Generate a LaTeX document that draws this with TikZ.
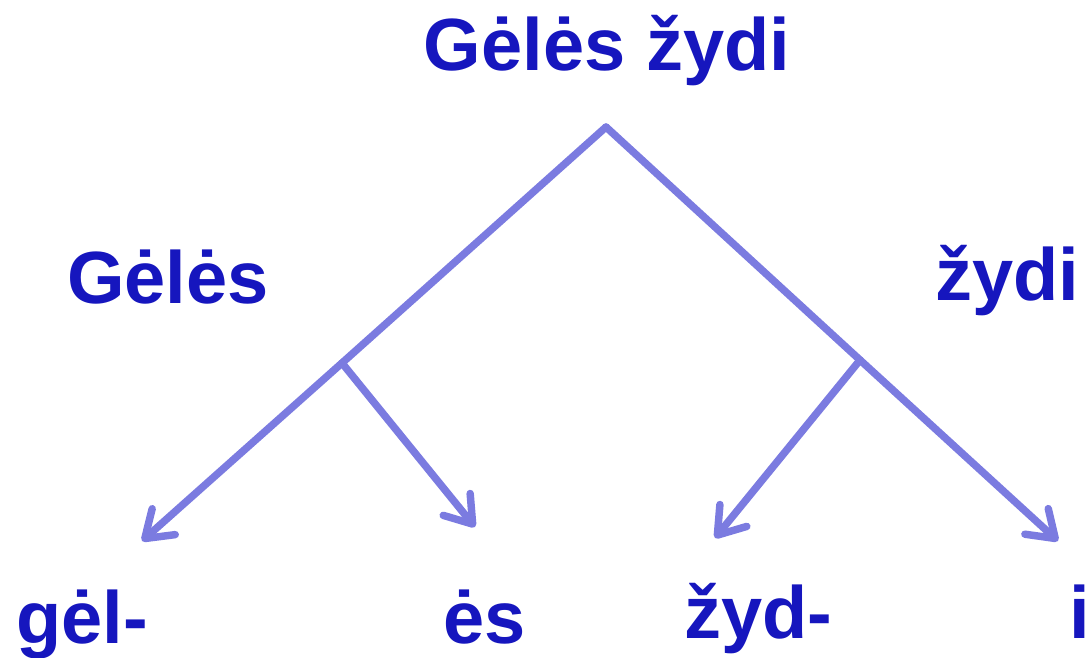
\documentclass[tikz,border=0pt]{standalone}
\usepackage{fontspec}
\setmainfont{Liberation Sans}
\usetikzlibrary{arrows.meta}
\definecolor{wordblue}{HTML}{1616BE}
\definecolor{branchlilac}{HTML}{7B7BE0}

\begin{document}
\begin{tikzpicture}[x=0.75pt, y=-0.75pt,
every node/.style = {font=\fontsize{55.5}{60}\selectfont\bfseries,
  text=wordblue, anchor=base, inner sep=0pt},
branch/.style = {line width=5.6pt, color=branchlilac, line cap=round},
arrowed/.style = {branch, -{Straight Barb[length=19pt, width=26pt, round]}}
]
\useasboundingbox (0,0) rectangle (1091,657);

% words
\node (title) at (607,70) {Gėlės žydi};
\node (subj) at (168,303) {Gėlės};
\node (pred) at (1007,300) {žydi};
\node (gel) at (82,643) {gėl-};
\node (es) at (485,643) {ės};
\node (zyd) at (758,638) {žyd-};
\node (ii) at (1080,638) {i};

% branching points and arrow ends
\coordinate (top) at (606,127);
\coordinate (lfork) at (342,363);
\coordinate (rfork) at (860,360);
\coordinate (geltip) at (142,541);
\coordinate (estip) at (475,527);
\coordinate (zydtip) at (715,538);
\coordinate (itip) at (1058,541);

\draw[branch] (top) -- (lfork);
\draw[branch] (top) -- (rfork);
\draw[arrowed] (lfork) -- (geltip);
\draw[arrowed] (lfork) -- (estip);
\draw[arrowed] (rfork) -- (zydtip);
\draw[arrowed] (rfork) -- (itip);

\end{tikzpicture}
\end{document}
